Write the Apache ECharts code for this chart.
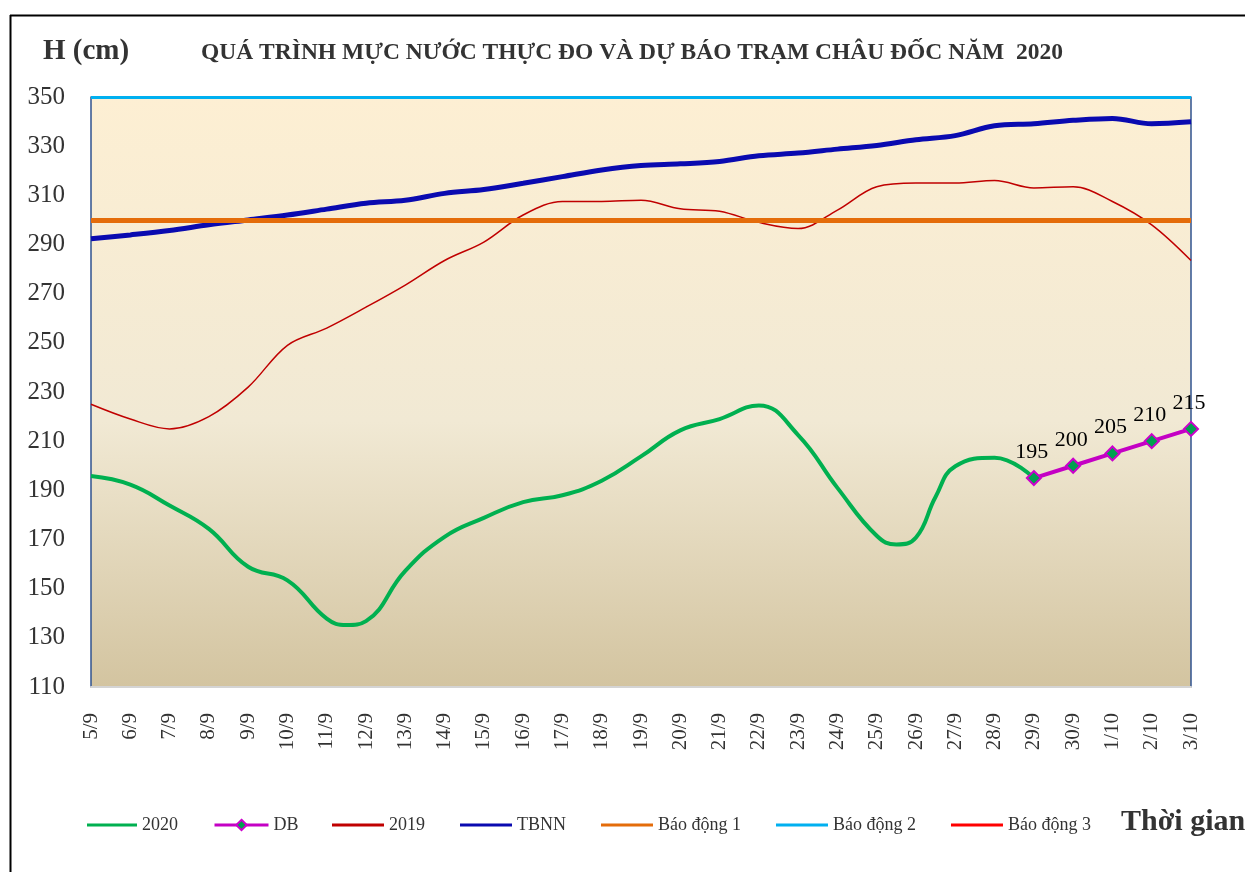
<!DOCTYPE html>
<html><head><meta charset="utf-8">
<script src="https://cdn.jsdelivr.net/npm/echarts@6/dist/echarts.min.js"></script>
<style>html,body{margin:0;padding:0;background:#fff}#c{width:1245px;height:872px}</style>
</head><body><div id="c"></div>
<script>
const categories = ['5/9','6/9','7/9','8/9','9/9','10/9','11/9','12/9','13/9','14/9','15/9','16/9','17/9','18/9','19/9','20/9','21/9','22/9','23/9','24/9','25/9','26/9','27/9','28/9','29/9','30/9','1/10','2/10','3/10'];
// 2020 observed: day position (index into categories, with a few half-day readings) and level
const h2020Days = [0,1,2,3,4,5,6,6.5,7,8,9,10,11,12,13,14,15,16,17,18,19,20,20.5,21,21.5,22,23,24];
const h2020 = [195.8,192.3,183.8,174.3,158.9,153.4,137.8,135.2,136.8,157.2,171.1,178.8,185.2,188,193.9,203.8,214.4,219,224.5,212.5,191,171.5,168,170.8,187.4,199.8,203.3,195];
const dbDays = [24,25,26,27,28];
const dbForecast = [195,200,205,210,215];
const h2019 = [225,219,215,220,232,249,256,264.5,273.5,283.5,291,302,307.5,307.5,308,304.5,303.5,299,296.5,304,313.5,315,315,316,313,313.5,307.5,298,283.5];
const tbnn = [292.3,293.9,295.7,298,300,302,304.4,306.8,308,310.8,312.4,314.9,317.6,320.3,322.1,322.8,323.8,326.1,327.2,328.8,330.3,332.6,334.3,338.3,339.1,340.5,341.3,339.1,339.9];
const ALARM1 = 300, ALARM2 = 350, ALARM3 = 400;
const Y_MIN = 110, Y_MAX = 350, Y_STEP = 20;

const SERIF = "'Liberation Serif','Times New Roman',serif";
const pairs = (xs, ys) => xs.map((x, i) => [x, ys[i]]);
const daily = ys => ys.map((v, i) => [i, v]);
const chart = echarts.init(document.getElementById('c'));
function alarmSeries(name, color, width, value) {
  const s = {name, type:'line', data:[], symbol:'none', itemStyle:{color}, lineStyle:{color, width}};
  if (value <= Y_MAX) {
    s.markLine = {silent:true, symbol:['none','none'], label:{show:false},
      lineStyle:{color, width, type:'solid'}, emphasis:{disabled:true}, data:[{yAxis:value}]};
  }
  return s;
}
const legendText = {fontFamily:SERIF, fontSize:18, color:'#333'};
chart.setOption({
  animation:false,
  title:[
    {text:'H (cm)', left:38, top:32, textStyle:{fontFamily:SERIF, fontSize:29, fontWeight:'bold', color:'#333'}},
    {text:'QUÁ TRÌNH MỰC NƯỚC THỰC ĐO VÀ DỰ BÁO TRẠM CHÂU ĐỐC NĂM  2020', left:196, top:36, textStyle:{fontFamily:SERIF, fontSize:23.5, fontWeight:'bold', color:'#333'}}
  ],
  graphic:[
    {type:'line', shape:{x1:10.5,y1:15,x2:10.5,y2:872}, style:{stroke:'#000', lineWidth:2}},
    {type:'line', shape:{x1:10,y1:15.5,x2:1245,y2:15.5}, style:{stroke:'#000', lineWidth:2}},
    {type:'text', left:1121, top:807, style:{text:'Thời gian', font:"bold 30px 'Liberation Serif'", fill:'#333'}}
  ],
  legend:[
    {left:82, top:811, icon:'rect', itemWidth:50, itemHeight:3, textStyle:legendText, data:['2020']},
    {left:208, top:811, itemWidth:54, itemHeight:13, lineStyle:{width:3}, textStyle:legendText, data:['DB']},
    {left:327, top:811, icon:'rect', itemWidth:52, itemHeight:3, itemGap:35, textStyle:legendText,
     data:['2019','TBNN','Báo động 1','Báo động 2','Báo động 3']}
  ],
  grid:{left:91, right:54, top:97, bottom:185, show:true, borderWidth:0,
    backgroundColor:new echarts.graphic.LinearGradient(0,0,0,1,[
      {offset:0,color:'#FDEFD3'},{offset:0.55,color:'#F1E9D4'},{offset:1,color:'#D3C4A0'}])},
  xAxis:{type:'value', min:0, max:categories.length-1, interval:1, splitLine:{show:false},
    axisLine:{onZero:false, lineStyle:{color:'#D4D4D4', width:2}}, axisTick:{show:false},
    axisLabel:{rotate:90, margin:26, fontSize:21, fontFamily:SERIF, color:'#333',
      formatter:v => categories[v] || ''}},
  yAxis:[
    {type:'value', min:Y_MIN, max:Y_MAX, interval:Y_STEP, splitLine:{show:false},
     axisLine:{show:true, lineStyle:{color:'#2F528F', width:1.5}}, axisTick:{show:false},
     axisLabel:{margin:26, fontSize:25, fontFamily:SERIF, color:'#333'}},
    {type:'value', position:'right', min:Y_MIN, max:Y_MAX, interval:Y_STEP, splitLine:{show:false},
     axisLine:{show:true, lineStyle:{color:'#2F528F', width:1.5}}, axisTick:{show:false}, axisLabel:{show:false}}
  ],
  series:[
    alarmSeries('Báo động 1', '#E46C0A', 5, ALARM1),
    alarmSeries('Báo động 2', '#00B0F0', 3, ALARM2),
    alarmSeries('Báo động 3', '#FF0000', 2, ALARM3),
    {name:'2019', type:'line', data:daily(h2019), smooth:0.35, symbol:'none', itemStyle:{color:'#C00000'}, lineStyle:{color:'#C00000', width:1.5}},
    {name:'TBNN', type:'line', data:daily(tbnn), smooth:0.35, symbol:'none', itemStyle:{color:'#0A0AB0'}, lineStyle:{color:'#0A0AB0', width:5}},
    {name:'2020', type:'line', data:pairs(h2020Days, h2020), smooth:0.45, symbol:'none', itemStyle:{color:'#00B050'}, lineStyle:{color:'#00B050', width:4}},
    {name:'DB', type:'line', data:pairs(dbDays, dbForecast), symbol:'diamond', symbolSize:14, z:5,
     itemStyle:{color:'#00A050', borderColor:'#CC00CC', borderWidth:2},
     lineStyle:{color:'#C400C4', width:4},
     label:{show:true, position:'top', distance:7, offset:[-2,0], fontSize:22, fontFamily:SERIF, color:'#000'}}
  ]
});
</script></body></html>
